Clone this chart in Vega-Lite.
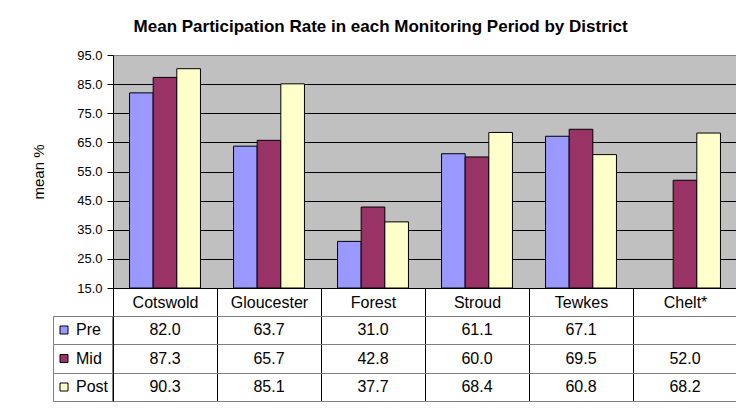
{
  "$schema": "https://vega.github.io/schema/vega-lite/v6.json",
  "background": "white",
  "autosize": {"type": "pad"},
  "padding": {"left": 31, "top": 18, "right": 0, "bottom": 0},
  "config": {"font": "Liberation Sans", "view": {"stroke": null}},
  "title": {
    "text": "Mean Participation Rate in each Monitoring Period by District",
    "font": "Liberation Sans",
    "fontSize": 17,
    "fontWeight": "bold",
    "color": "black",
    "anchor": "middle",
    "frame": "bounds",
    "offset": 12.5,
    "dx": -4
  },
  "datasets": {
    "rows": [
      {"district": "Cotswold", "period": "Pre", "value": 82.0},
      {"district": "Cotswold", "period": "Mid", "value": 87.3},
      {"district": "Cotswold", "period": "Post", "value": 90.3},
      {"district": "Gloucester", "period": "Pre", "value": 63.7},
      {"district": "Gloucester", "period": "Mid", "value": 65.7},
      {"district": "Gloucester", "period": "Post", "value": 85.1},
      {"district": "Forest", "period": "Pre", "value": 31.0},
      {"district": "Forest", "period": "Mid", "value": 42.8},
      {"district": "Forest", "period": "Post", "value": 37.7},
      {"district": "Stroud", "period": "Pre", "value": 61.1},
      {"district": "Stroud", "period": "Mid", "value": 60.0},
      {"district": "Stroud", "period": "Post", "value": 68.4},
      {"district": "Tewkes", "period": "Pre", "value": 67.1},
      {"district": "Tewkes", "period": "Mid", "value": 69.5},
      {"district": "Tewkes", "period": "Post", "value": 60.8},
      {"district": "Chelt*", "period": "Mid", "value": 52.0},
      {"district": "Chelt*", "period": "Post", "value": 68.2}
    ]
  },
  "bounds": "flush",
  "spacing": 28,
  "vconcat": [
    {
      "width": 624,
      "height": 233,
      "data": {"name": "rows"},
      "view": {"fill": "#C0C0C0", "stroke": "#808080"},
      "mark": {"type": "bar", "stroke": "black", "strokeWidth": 1},
      "encoding": {
        "x": {
          "field": "district",
          "type": "nominal",
          "sort": ["Cotswold", "Gloucester", "Forest", "Stroud", "Tewkes", "Chelt*"],
          "scale": {"paddingInner": 0, "paddingOuter": 0},
          "axis": {
            "title": null,
            "orient": "bottom",
            "labelAngle": 0,
            "labelFont": "Liberation Sans",
            "labelFontSize": 16,
            "labelColor": "black",
            "labelBaseline": "middle",
            "labelPadding": -14,
            "tickBand": "extent",
            "tickSize": 28,
            "tickColor": "black",
            "domainColor": "black",
            "grid": false
          }
        },
        "xOffset": {
          "field": "period",
          "sort": ["Pre", "Mid", "Post"],
          "scale": {"paddingInner": 0, "paddingOuter": 0.7}
        },
        "y": {
          "field": "value",
          "type": "quantitative",
          "scale": {"domain": [15, 95], "nice": false, "zero": false},
          "axis": {
            "title": "mean %",
            "titleFont": "Liberation Sans",
            "titleFontSize": 15,
            "titleFontWeight": "normal",
            "titleColor": "black",
            "titlePadding": 30,
            "values": [15, 25, 35, 45, 55, 65, 75, 85, 95],
            "format": ".1f",
            "labelFont": "Liberation Sans",
            "labelFontSize": 13,
            "labelColor": "black",
            "labelPadding": 5,
            "tickSize": 6,
            "tickColor": "black",
            "domainColor": "black",
            "grid": true,
            "gridOpacity": 1,
            "gridColor": {"condition": {"test": "datum.value == 95", "value": "#808080"}, "value": "black"}
          }
        },
        "y2": {"datum": 15},
        "color": {
          "field": "period",
          "type": "nominal",
          "sort": ["Pre", "Mid", "Post"],
          "scale": {"domain": ["Pre", "Mid", "Post"], "range": ["#9999FF", "#993366", "#FFFFCC"]},
          "legend": {
            "orient": "none",
            "legendX": -60,
            "legendY": 261,
            "title": null,
            "symbolType": "square",
            "symbolSize": 64,
            "symbolStrokeColor": "black",
            "symbolStrokeWidth": 1,
            "symbolOpacity": 1,
            "labelFont": "Liberation Sans",
            "labelFontSize": 16,
            "labelColor": "black",
            "labelOffset": 4,
            "clipHeight": 22,
            "rowPadding": 6.5,
            "padding": 3,
            "strokeColor": "#808080"
          }
        }
      }
    },
    {
      "width": 624,
      "height": 85,
      "data": {"name": "rows"},
      "mark": {"type": "text", "font": "Liberation Sans", "fontSize": 16, "color": "black"},
      "encoding": {
        "x": {
          "field": "district",
          "type": "nominal",
          "sort": ["Cotswold", "Gloucester", "Forest", "Stroud", "Tewkes", "Chelt*"],
          "scale": {"paddingInner": 0, "paddingOuter": 0},
          "axis": {
            "title": null,
            "labels": false,
            "ticks": false,
            "domain": false,
            "grid": true,
            "tickBand": "extent",
            "gridColor": "black",
            "gridOpacity": 1
          }
        },
        "y": {
          "field": "period",
          "type": "nominal",
          "sort": ["Pre", "Mid", "Post"],
          "scale": {"paddingInner": 0, "paddingOuter": 0},
          "axis": {
            "title": null,
            "labels": false,
            "ticks": true,
            "tickSize": 60,
            "tickColor": "#808080",
            "tickBand": "extent",
            "grid": true,
            "gridColor": "#808080",
            "gridOpacity": 1,
            "domain": true,
            "domainColor": "black"
          }
        },
        "text": {"field": "value", "type": "quantitative", "format": ".1f"}
      }
    }
  ]
}
